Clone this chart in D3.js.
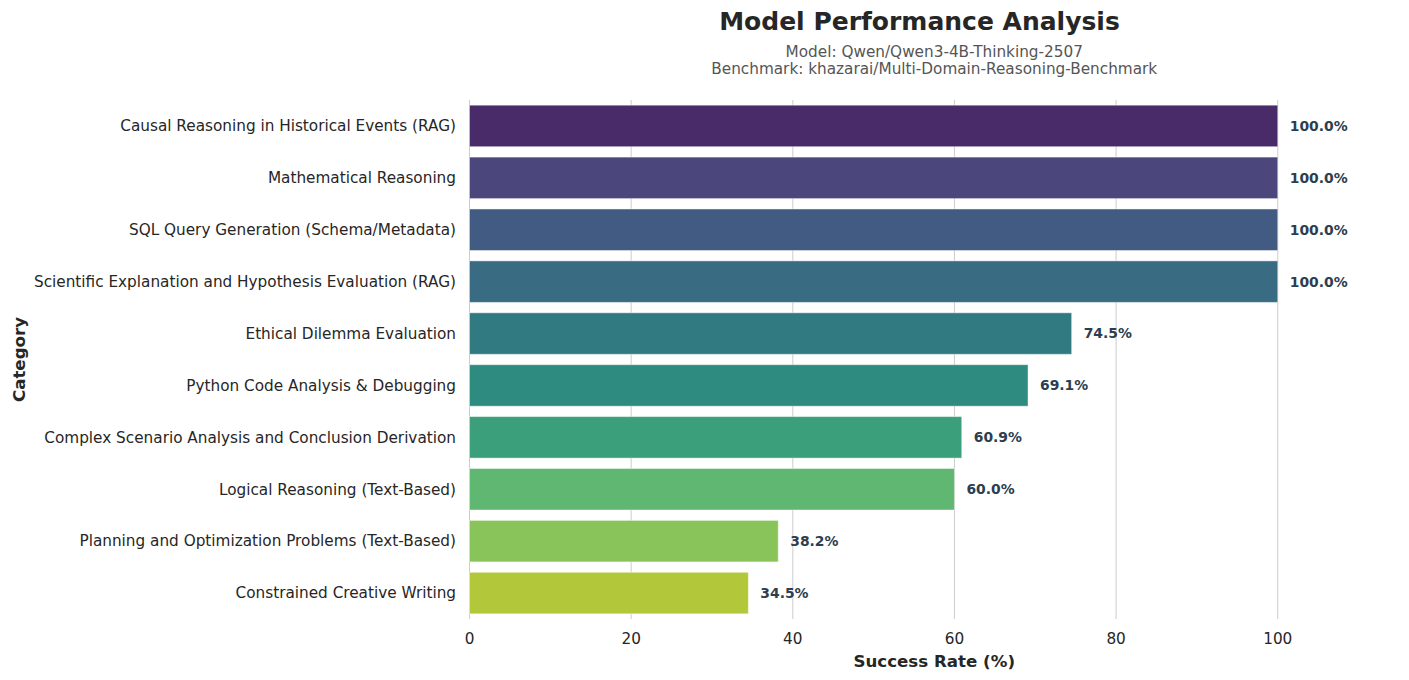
<!DOCTYPE html>
<html>
<head>
<meta charset="utf-8">
<script src="https://cdn.jsdelivr.net/npm/d3@7"></script>
<style>
  html, body { margin: 0; padding: 0; background: #fff; }
  svg { display: block; font-family: "DejaVu Sans", sans-serif; }
</style>
</head>
<body>
<svg id="chart" width="1409" height="680"></svg>
<script>
const categories = [
  "Causal Reasoning in Historical Events (RAG)",
  "Mathematical Reasoning",
  "SQL Query Generation (Schema/Metadata)",
  "Scientific Explanation and Hypothesis Evaluation (RAG)",
  "Ethical Dilemma Evaluation",
  "Python Code Analysis & Debugging",
  "Complex Scenario Analysis and Conclusion Derivation",
  "Logical Reasoning (Text-Based)",
  "Planning and Optimization Problems (Text-Based)",
  "Constrained Creative Writing"
];
const successRates = [100.0, 100.0, 100.0, 100.0, 74.5, 69.1, 60.9, 60.0, 38.2, 34.5];
const xTicks = [0, 20, 40, 60, 80, 100];
const titleText = "Model Performance Analysis";
const subtitleLines = ["Model: Qwen/Qwen3-4B-Thinking-2507", "Benchmark: khazarai/Multi-Domain-Reasoning-Benchmark"];

(function () {
const svg = d3.select("#chart");
const plotLeft = 469.5, plotRight = 1399, plotTop = 100, plotBottom = 619;

const x = d3.scaleLinear().domain([0, 115]).range([plotLeft, plotRight]);
const y = d3.scaleBand().domain(categories).range([plotTop, plotBottom]).paddingInner(0.2).paddingOuter(0.1);

function colorFor(i) {
  const c = d3.hsl(d3.interpolateViridis((i + 1) / (categories.length + 1)));
  c.s *= 0.75;
  return c.formatHex();
}

// grid
svg.append("g").selectAll("line").data(xTicks).join("line")
  .attr("x1", d => x(d)).attr("x2", d => x(d))
  .attr("y1", plotTop).attr("y2", plotBottom)
  .attr("stroke", "#cccccc").attr("stroke-width", 1);

// bars
svg.append("g").selectAll("rect").data(categories).join("rect")
  .attr("x", x(0))
  .attr("y", d => y(d))
  .attr("width", (d, i) => x(successRates[i]) - x(0))
  .attr("height", y.bandwidth())
  .attr("fill", (d, i) => colorFor(i))
  .attr("stroke", "#ffffff").attr("stroke-opacity", 0.45).attr("stroke-width", 1);

// value labels
svg.append("g").selectAll("text").data(categories).join("text")
  .attr("x", (d, i) => x(successRates[i]) + 12)
  .attr("y", d => y(d) + y.bandwidth() / 2)
  .attr("dy", "0.35em")
  .attr("font-size", 13.9).attr("font-weight", "bold").attr("fill", "#2c3e50")
  .text((d, i) => successRates[i].toFixed(1) + "%");

// y tick labels
svg.append("g").selectAll("text").data(categories).join("text")
  .attr("x", plotLeft - 13.5)
  .attr("y", d => y(d) + y.bandwidth() / 2)
  .attr("dy", "0.35em")
  .attr("text-anchor", "end")
  .attr("font-size", 15.28).attr("fill", "#262626")
  .text(d => d);

// x tick labels
svg.append("g").selectAll("text").data(xTicks).join("text")
  .attr("x", d => x(d))
  .attr("y", 644)
  .attr("text-anchor", "middle")
  .attr("font-size", 15.28).attr("fill", "#262626")
  .text(d => d);

// axis labels
svg.append("text")
  .attr("x", (plotLeft + plotRight) / 2).attr("y", 667)
  .attr("text-anchor", "middle")
  .attr("font-size", 16.67).attr("font-weight", "bold").attr("fill", "#262626")
  .text("Success Rate (%)");

svg.append("text")
  .attr("transform", `translate(25, ${(plotTop + plotBottom) / 2}) rotate(-90)`)
  .attr("text-anchor", "middle")
  .attr("font-size", 16.67).attr("font-weight", "bold").attr("fill", "#262626")
  .text("Category");

// title
svg.append("text")
  .attr("x", 919.5).attr("y", 30)
  .attr("text-anchor", "middle")
  .attr("font-size", 25).attr("font-weight", "bold").attr("fill", "#262626")
  .text(titleText);

svg.append("g").selectAll("text").data(subtitleLines).join("text")
  .attr("x", (plotLeft + plotRight) / 2)
  .attr("y", (d, i) => 56.5 + i * 17.5)
  .attr("text-anchor", "middle")
  .attr("font-size", 15.28).attr("fill", "#555555")
  .text(d => d);
})();
</script>
</body>
</html>
